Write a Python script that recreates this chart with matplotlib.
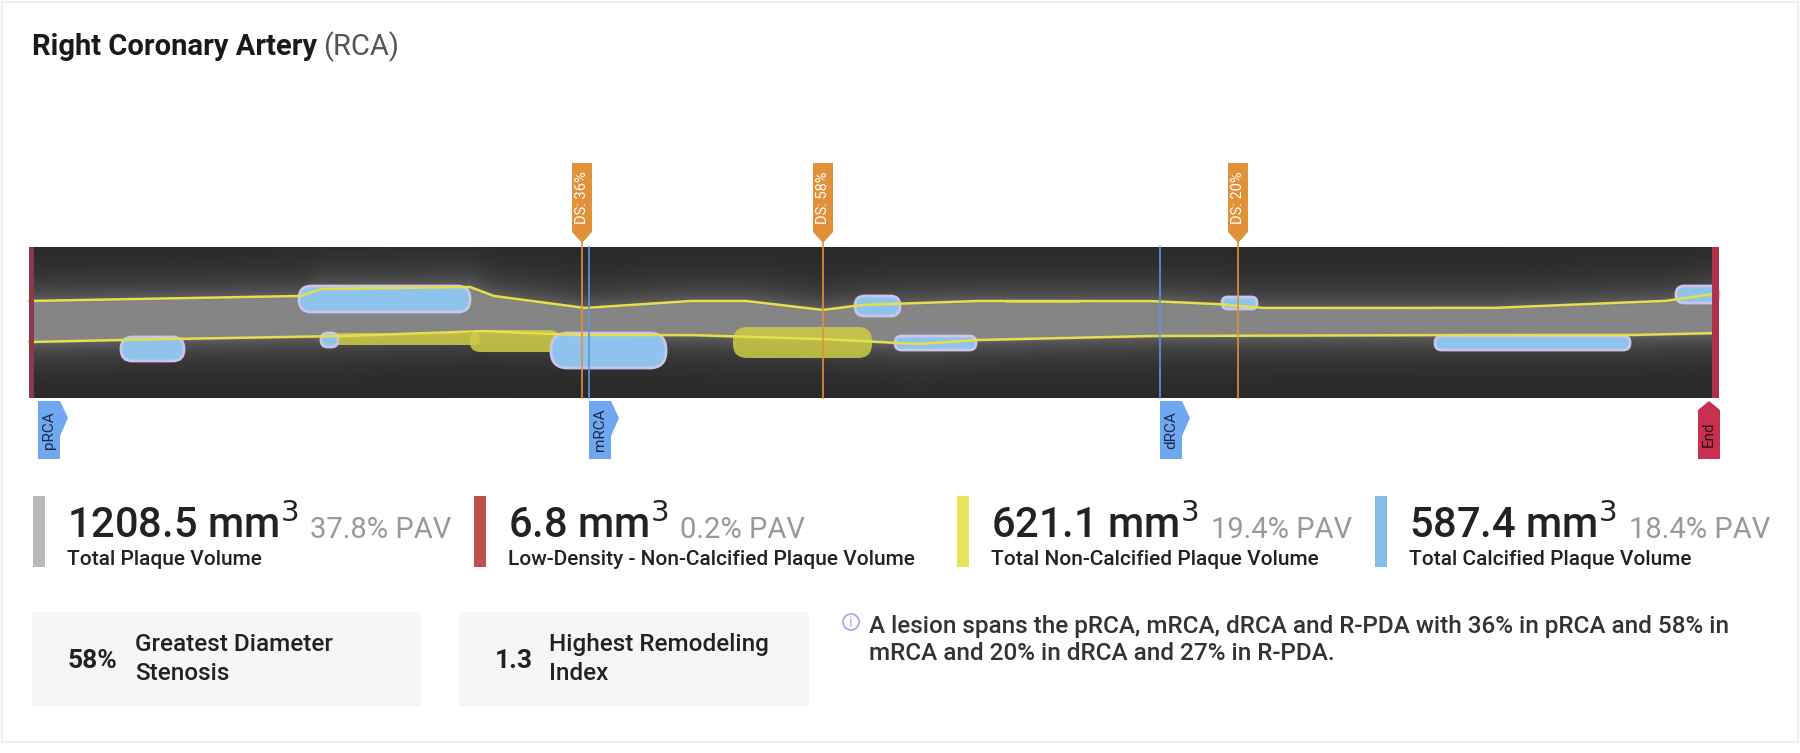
import numpy as np
import matplotlib.pyplot as plt
from matplotlib.patches import Rectangle, Polygon, FancyBboxPatch, Circle

plt.rcParams['font.family'] = ['Roboto', 'DejaVu Sans']

# vessel geometry (x in px along the image, y in px)
img_x0, img_x1, img_y0, img_y1 = 29, 1719, 247, 398
wall_x = [29, 300, 322, 470, 494, 585, 690, 746, 823, 861, 976, 1148, 1217, 1263, 1492, 1665, 1719]
upper_wall = [301, 296, 289, 287, 296, 308, 301, 301, 310, 305, 301, 301, 304, 308, 308, 301, 293]
lower_x = [29, 115, 344, 482, 574, 689, 823, 918, 976, 1148, 1435, 1630, 1719]
lower_wall = [342, 340, 336, 331, 335, 335, 339, 344, 340, 336, 335, 335, 333]

# calcified (blue) plaque patches: x start, x end, y top, y bottom
calc_x0 = [299, 855, 1222, 1676, 121, 321, 551, 895, 1435]
calc_x1 = [470, 900, 1257, 1719, 184, 338, 666, 976, 1630]
calc_top = [286, 296, 297, 286, 337, 333, 333, 336, 336]
calc_bot = [312, 316, 309, 303, 361, 347, 368, 350, 350]
# non-calcified (yellow) plaque patches
nc_x0 = [733, 470, 861, 1005, 330]
nc_x1 = [872, 560, 895, 1080, 480]
nc_top = [327, 330, 300, 300, 333]
nc_bot = [358, 352, 308, 303, 345]

ds_x = [582, 823, 1238]
ds_labels = ['DS: 36%', 'DS: 58%', 'DS: 20%']
seg_x = [38, 589, 1160]
seg_labels = ['pRCA', 'mRCA', 'dRCA']

stat_values = ['1208.5', '6.8', '621.1', '587.4']
stat_pav = ['37.8% PAV', '0.2% PAV', '19.4% PAV', '18.4% PAV']
stat_labels = ['Total Plaque Volume', 'Low-Density - Non-Calcified Plaque Volume',
               'Total Non-Calcified Plaque Volume', 'Total Calcified Plaque Volume']
stat_colors = ['#b9b9b9', '#c0504d', '#e6e35c', '#86bde8']
stat_x = [38, 479, 962, 1380]

fig = plt.figure(figsize=(18, 7.53), dpi=100)
ax = fig.add_axes([0, 0, 1, 1])
ax.set_xlim(0, 1800)
ax.set_ylim(753, 0)
ax.axis('off')

ax.add_patch(Rectangle((2, 2), 1796, 740, fc='white', ec='#eeeeee', lw=1.5))


def right_of(t):
    fig.canvas.draw()
    return t.get_window_extent().transformed(ax.transData.inverted()).x1


t = ax.text(32, 55, 'Right Coronary Artery', fontsize=21, fontweight='bold', color='#1a1a1a')
ax.text(right_of(t) + 6, 55, '(RCA)', fontsize=21, color='#555555')

# grayscale vessel image built from the wall profiles
xs = np.arange(img_x0, img_x1)
ys = np.arange(img_y0, img_y1)
up = np.interp(xs, wall_x, upper_wall)
lo = np.interp(xs, lower_x, lower_wall)
Y = ys[:, None]
inside = np.clip(np.minimum(Y - up[None, :], lo[None, :] - Y) / 4 + 0.5, 0, 1)
outer = np.exp(-np.minimum(np.abs(Y - up[None, :]), np.abs(Y - lo[None, :])) / 18)
shade = 0.16 + 0.22 * outer * (1 - inside) + 0.36 * inside
ax.imshow(shade, cmap='gray', vmin=0, vmax=1, extent=(img_x0, img_x1, img_y1, img_y0),
          aspect='auto', zorder=1)

for x0, x1, t_, b in zip(nc_x0, nc_x1, nc_top, nc_bot):
    ax.add_patch(FancyBboxPatch((x0, t_), x1 - x0, b - t_,
                                boxstyle='round,pad=0,rounding_size=%f' % ((b - t_) / 2.2),
                                fc='#cfcd45', ec='none', alpha=0.85, zorder=2))
for x0, x1, t_, b in zip(calc_x0, calc_x1, calc_top, calc_bot):
    ax.add_patch(FancyBboxPatch((x0, t_), x1 - x0, b - t_,
                                boxstyle='round,pad=0,rounding_size=%f' % ((b - t_) / 2.1),
                                fc='#8ec3ee', ec='#cbc6e8', lw=2, zorder=3))
ax.plot(xs, up, color='#e4df4a', lw=1.8, zorder=4)
ax.plot(xs, lo, color='#e4df4a', lw=1.8, zorder=4)
ax.add_patch(Rectangle((img_x0, img_y0), 5, img_y1 - img_y0, fc='#8a3a4a', zorder=5))
ax.add_patch(Rectangle((img_x1 - 7, img_y0), 7, img_y1 - img_y0, fc='#b0304a', zorder=5))

# stenosis flags
for x, lab in zip(ds_x, ds_labels):
    ax.plot([x, x], [241, img_y1], color='#e0913a', lw=1.2, zorder=6)
    ax.add_patch(Polygon([[x - 10, 163], [x + 10, 163], [x + 10, 232], [x, 243], [x - 10, 232]],
                         closed=True, fc='#e0913a', ec='none', zorder=7))
    ax.text(x, 198, lab, rotation=90, ha='center', va='center', fontsize=10.5, color='white', zorder=8)

# segment markers
for x, lab in zip(seg_x, seg_labels):
    if x > 100:
        ax.plot([x, x], [img_y0, img_y1], color='#5b95e0', lw=1.2, zorder=6)
    ax.add_patch(Polygon([[x, 401], [x + 22, 401], [x + 30, 418], [x + 22, 436], [x + 22, 459], [x, 459]],
                         closed=True, fc='#6fa8f0', ec='none', zorder=7))
    ax.text(x + 11, 430, lab, rotation=90, ha='center', va='center', fontsize=11, color='#1b2a44', zorder=8)
ex = 1709
ax.add_patch(Polygon([[ex - 11, 410], [ex, 401], [ex + 11, 410], [ex + 11, 459], [ex - 11, 459]],
                     closed=True, fc='#c9304f', ec='none', zorder=7))
ax.text(ex, 434, 'End', rotation=90, ha='center', va='center', fontsize=11, color='#2a0a10', zorder=8)

# volume stats
for x, v, p, lab, c in zip(stat_x, stat_values, stat_pav, stat_labels, stat_colors):
    ax.add_patch(Rectangle((x - 5, 496), 12, 71, fc=c, ec='none'))
    t = ax.text(x + 29, 538, v + ' mm$^3$', fontsize=30, fontweight='medium', color='#222222')
    ax.text(right_of(t) + 12, 538, p, fontsize=21, color='#999999')
    ax.text(x + 29, 565, lab, fontsize=15, fontweight='medium', color='#222222')

# summary boxes
box_x = [32, 459]
box_w = [389, 350]
box_val = ['58%', '1.3']
box_lab = ['Greatest Diameter\nStenosis', 'Highest Remodeling\nIndex']
box_lab_x = [135, 549]
for x, w, v, lab, lx in zip(box_x, box_w, box_val, box_lab, box_lab_x):
    ax.add_patch(Rectangle((x, 612), w, 94, fc='#f4f6f8', ec='none'))
    ax.text(x + 36, 661, v, fontsize=19, fontweight='bold', color='#222222', va='center')
    ax.text(lx, 659, lab, fontsize=17.5, fontweight='medium', color='#222222',
            va='center', linespacing=1.35)

ax.add_patch(Circle((851, 622), 8, fc='none', ec='#b9a4e6', lw=1.3))
ax.text(851, 623, 'i', fontsize=10, color='#b9a4e6', va='center', ha='center')
ax.text(869, 640, 'A lesion spans the pRCA, mRCA, dRCA and R-PDA with 36% in pRCA and 58% in\n'
        'mRCA and 20% in dRCA and 27% in R-PDA.', fontsize=17.5, fontweight='medium',
        color='#333333', va='center', linespacing=1.2)

fig.savefig('out.png', dpi=100)
